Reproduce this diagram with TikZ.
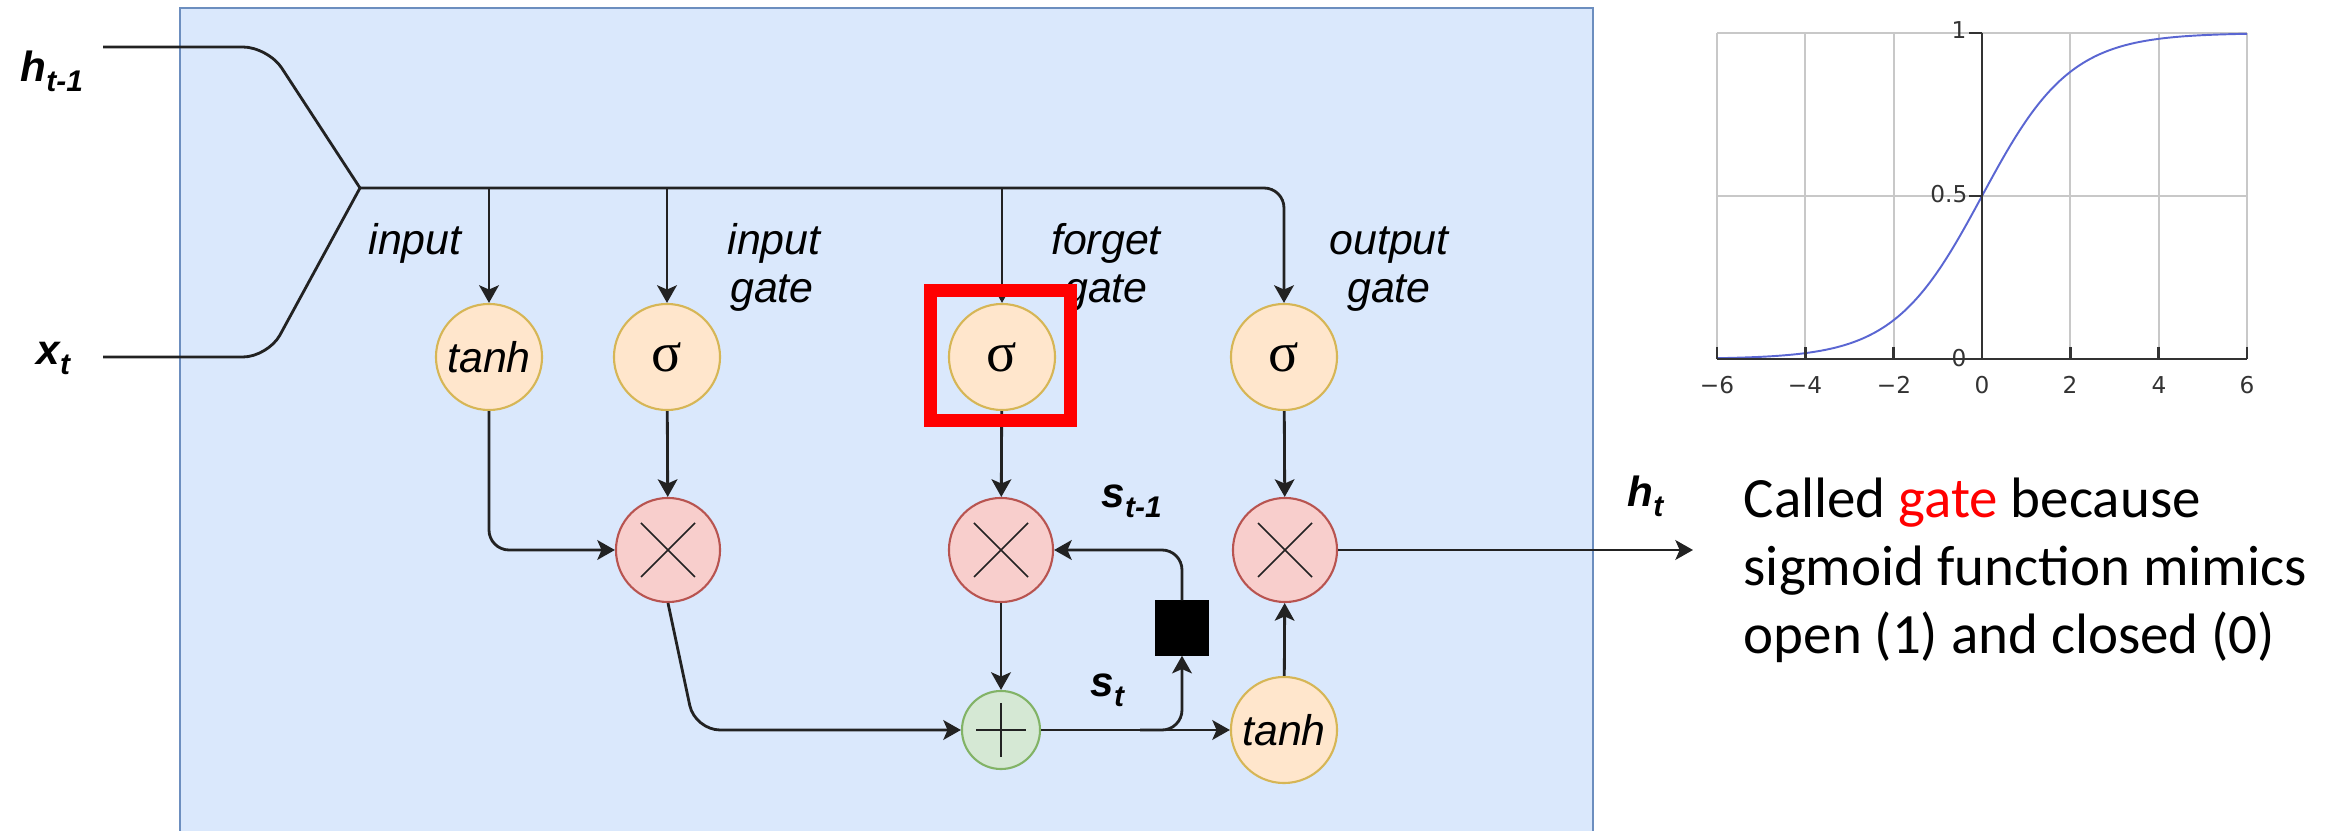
\documentclass[tikz,border=0pt]{standalone}
\usepackage{fontspec}
\newfontfamily\arialf{Liberation Sans}
\newfontfamily\calibf{Carlito}
\newfontfamily\dejaf{DejaVu Sans}
\newfontfamily\serf{Liberation Serif}
\usetikzlibrary{arrows.meta}
\definecolor{bluefill}{HTML}{DAE8FC}
\definecolor{blueedge}{HTML}{6C8EBF}
\definecolor{orfill}{HTML}{FFE6CC}
\definecolor{oredge}{HTML}{D6B656}
\definecolor{pkfill}{HTML}{F8CECC}
\definecolor{pkedge}{HTML}{B85450}
\definecolor{grfill}{HTML}{D5E8D4}
\definecolor{gredge}{HTML}{82B366}
\definecolor{wirec}{HTML}{222222}
\definecolor{gridc}{HTML}{C8C8C8}
\definecolor{axisc}{HTML}{333333}
\definecolor{curvec}{HTML}{5A66D2}
\definecolor{hlred}{HTML}{FF0000}
\newcommand{\lblfont}{\arialf\itshape\fontsize{12.2}{13.7}\selectfont}
\newcommand{\varfont}{\arialf\bfseries\itshape\fontsize{12}{13}\selectfont}
\newcommand{\vsub}[1]{\raisebox{-2.6pt}{\fontsize{8.5}{9}\selectfont #1}}
\begin{document}
\begin{tikzpicture}[x=0.01cm, y=-0.01cm,
  wire/.style={draw=wirec, line width=0.8pt},
  arr/.style={wire, -{Stealth[length=5pt, width=5.6pt, inset=1.2pt]}},
  gatenode/.style={circle, minimum size=1.06cm, inner sep=0pt, fill=orfill, draw=oredge, line width=0.6pt},
  multnode/.style={circle, minimum size=1.04cm, inner sep=0pt, fill=pkfill, draw=pkedge, line width=0.6pt,
    path picture={\draw[draw=wirec, line width=0.45pt]
      ([shift={(-27,-27)}]path picture bounding box.center) -- ([shift={(27,27)}]path picture bounding box.center)
      ([shift={(-27,27)}]path picture bounding box.center) -- ([shift={(27,-27)}]path picture bounding box.center);}},
  plusnode/.style={circle, minimum size=0.78cm, inner sep=0pt, fill=grfill, draw=gredge, line width=0.6pt,
    path picture={\draw[draw=wirec, line width=0.45pt]
      ([shift={(-25,0)}]path picture bounding box.center) -- ([shift={(25,0)}]path picture bounding box.center)
      ([shift={(0,-27)}]path picture bounding box.center) -- ([shift={(0,27)}]path picture bounding box.center);}},
  delaynode/.style={rectangle, fill=black, draw=black, minimum width=0.53cm, minimum height=0.54cm, inner sep=0pt},
  lbl/.style={font=\lblfont, inner sep=0pt, anchor=base},
  varlbl/.style={font=\varfont, inner sep=0pt, anchor=base west},
  sigtxt/.style={font=\serf\fontsize{16}{16}\selectfont},
  tanhtxt/.style={font=\lblfont},
  gridl/.style={draw=gridc, line width=0.55pt},
  axisl/.style={draw=axisc, line width=0.7pt},
  ticklbl/.style={font=\dejaf\fontsize{6.6}{7}\selectfont, inner sep=0pt, text=axisc},
  note/.style={font=\calibf\fontsize{16.2}{19.7}\selectfont, inner sep=0pt, anchor=base west}
]
\useasboundingbox (0,0) rectangle (2344,831);

% cell background
\fill[bluefill] (180,8) rectangle (1593,831);
\draw[draw=blueedge, line width=0.6pt] (180,831) -- (180,8) -- (1593,8) -- (1593,831);

% nodes
\node[gatenode, tanhtxt] (tg) at (489,357) {tanh};
\node[gatenode, sigtxt] (ig) at (667,357) {σ};
\node[gatenode, sigtxt] (fg) at (1002,357) {σ};
\node[gatenode, sigtxt] (og) at (1284,357) {σ};
\node[multnode] (m1) at (668,550) {};
\node[multnode] (m2) at (1001,550) {};
\node[multnode] (m3) at (1285,550) {};
\node[plusnode] (pl) at (1001,730) {};
\node[gatenode, tanhtxt] (ot) at (1284,730) {tanh};
\node[delaynode] (sq) at (1182,628) {};

% coordinates
\coordinate (hin) at (103,47);
\coordinate (xin) at (103,357);
\coordinate (hbend) at (268,47);
\coordinate (xbend) at (268,357);
\coordinate (J) at (360,188);
\coordinate (c1) at (695,730);
\coordinate (br) at (1140,730);
\coordinate (hout) at (1693,550);

% inputs
\draw[wire, rounded corners=0.25cm] (hin) -- (hbend) -- (J);
\draw[wire, rounded corners=0.25cm] (xin) -- (xbend) -- (J);
\draw[arr, rounded corners=0.2cm] (J) -- (og |- J) -- (og);
\draw[arr] (J -| tg) -- (tg);
\draw[arr] (J -| ig) -- (ig);
\draw[arr] (J -| fg) -- (fg);

% gates to products
\draw[arr, rounded corners=0.2cm] (tg) |- (m1);
\draw[arr] (ig) -- (m1);
\draw[arr] (fg) -- (m2);
\draw[arr] (og) -- (m3);

% cell state
\draw[arr, rounded corners=0.25cm] (m1.south) -- (c1) -- (pl);
\draw[arr] (m2) -- (pl);
\draw[arr] (pl) -- (ot);
\draw[arr, rounded corners=0.2cm] (br) -- (sq |- pl) -- (sq);
\draw[arr, rounded corners=0.2cm] (sq) |- (m2);
\draw[arr] (ot) -- (m3);
\draw[arr] (m3) -- (hout);

% labels
\node[varlbl] (lh) at (20,82) {h\vsub{t-1}};
\node[varlbl] (lx) at (36,365) {x\vsub{t}};
\node[lbl] (lin) at (415,255) {input};
\node[lbl] (lig1) at (774,255) {input};
\node[lbl] (lig2) at (772,303) {gate};
\node[lbl] (lfg1) at (1106,255) {forget};
\node[lbl] (lfg2) at (1106,303) {gate};
\node[lbl] (log1) at (1389,255) {output};
\node[lbl] (log2) at (1389,303) {gate};
\node[varlbl] (ls1) at (1101,508) {s\vsub{t-1}};
\node[varlbl] (ls) at (1090,697) {s\vsub{t}};
\node[varlbl] (lht) at (1627,507) {h\vsub{t}};

% highlight
\draw[draw=hlred, line width=3.7pt] (930.5,290.5) rectangle (1070,420.5);

% sigmoid plot
\foreach \v in {-6,-4,...,6} {
  \draw[gridl] ({1982+44.17*\v},33) -- ({1982+44.17*\v},359);
}
\draw[gridl] (1717,33) -- (2247,33);
\draw[gridl] (1717,196) -- (2247,196);
\draw[curvec, line width=0.55pt] plot[domain=-6:6, samples=120, smooth] ({1982+44.17*\x}, {359-326/(1+exp(-\x))});
\draw[axisl] (1982,33) -- (1982,359);
\draw[axisl] (1717,359) -- (2247,359);
\foreach \v in {-6,-4,...,6} {
  \draw[axisl] ({1982+44.17*\v},347) -- ({1982+44.17*\v},359);
}
\foreach \yy in {33,196,359} {
  \draw[axisl] (1969,\yy) -- (1982,\yy);
}
\node[ticklbl, anchor=base] (xm6) at (1717,394) {−6};
\node[ticklbl, anchor=base] (xm4) at (1805,394) {−4};
\node[ticklbl, anchor=base] (xm2) at (1894,394) {−2};
\node[ticklbl, anchor=base] (x0) at (1982,394) {0};
\node[ticklbl, anchor=base] (x2) at (2070,394) {2};
\node[ticklbl, anchor=base] (x4) at (2159,394) {4};
\node[ticklbl, anchor=base] (x6) at (2247,394) {6};
\node[ticklbl, anchor=base east] (y1) at (1967,39) {1};
\node[ticklbl, anchor=base east] (y05) at (1968,203) {0.5};
\node[ticklbl, anchor=base east] (y0) at (1967,367) {0};

% note
\node[note] (n1) at (1743,518) {Called \textcolor{hlred}{gate} because};
\node[note] (n2) at (1743,586) {sigmoid function mimics};
\node[note] (n3) at (1743,654) {open (1) and closed (0)};
\end{tikzpicture}
\end{document}
